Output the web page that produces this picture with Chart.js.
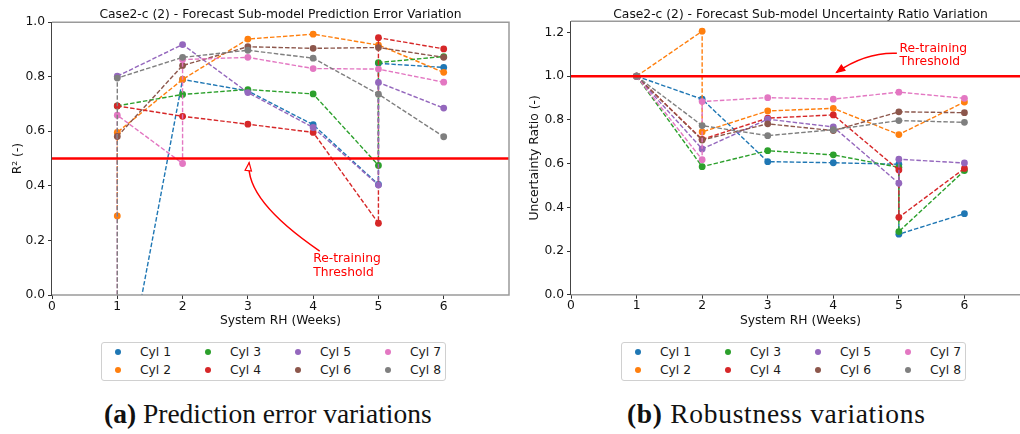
<!DOCTYPE html>
<html><head><meta charset="utf-8">
<script src="https://cdn.jsdelivr.net/npm/chart.js@4.4.0/dist/chart.umd.min.js"></script>
<style>
html,body{margin:0;padding:0;background:#fff;overflow:hidden;width:1020px;height:434px;}
#wrap{position:relative;width:1020px;height:434px;overflow:hidden;background:#fff;}
.cv{position:absolute;top:0;}
.legend{position:absolute;top:342px;width:345px;height:39px;border:1px solid #d0d0d0;border-radius:3px;box-sizing:border-box;font-family:'DejaVu Sans',sans-serif;font-size:12.3px;color:#1a1a1a;background:#fff;}
.item{position:absolute;white-space:nowrap;line-height:14px;}
.dot{position:absolute;width:6px;height:6px;border-radius:50%;}
.cap{position:absolute;top:400px;font-family:'Liberation Serif',serif;font-size:27.5px;color:#111;white-space:nowrap;line-height:28px;}
</style></head><body>
<div id="wrap">
<div class="cv" style="left:0;"><canvas id="c1" width="520" height="330"></canvas></div>
<div class="cv" style="left:520px;"><canvas id="c2" width="520" height="330"></canvas></div>
<div class="legend" id="lg1" style="left:101px;"></div>
<div class="legend" id="lg2" style="left:621px;"></div>
<div class="cap" style="left:104px;"><b>(a)</b> Prediction error variations</div>
<div class="cap" style="left:627px;letter-spacing:0.7px;"><b>(b)</b> Robustness variations</div>
</div>
<script>
// ---------- data ----------
const cylNames = ['Cyl 1','Cyl 2','Cyl 3','Cyl 4','Cyl 5','Cyl 6','Cyl 7','Cyl 8'];
const cylColors = ['#1f77b4','#ff7f0e','#2ca02c','#d62728','#9467bd','#8c564b','#e377c2','#7f7f7f'];
const xTickValues = [0,1,2,3,4,5,6];
const r2TickValues = [0,0.2,0.4,0.6,0.8,1.0];
const urTickValues = [0,0.2,0.4,0.6,0.8,1.0,1.2];
const r2Threshold = 0.5;
const urThreshold = 1.0;

// (a) R^2 per cylinder (week, value); repeated weeks = value after re-training
const r2X1 = [1,2,3,4,5,5,6];     const r2Y1 = [-0.48,0.790,0.748,0.624,0.405,0.849,0.834];
const r2X2 = [1,1,2,3,4,5,6];     const r2Y2 = [0.290,0.596,0.790,0.938,0.956,0.916,0.816];
const r2X3 = [1,2,3,4,5,5,6];     const r2Y3 = [0.693,0.735,0.753,0.737,0.475,0.852,0.874];
const r2X4 = [1,2,3,4,5,5,6];     const r2Y4 = [0.693,0.655,0.626,0.596,0.263,0.943,0.902];
const r2X5 = [1,2,3,4,5,5,6];     const r2Y5 = [0.802,0.918,0.742,0.614,0.403,0.779,0.685];
const r2X6 = [1,2,3,4,5,6];       const r2Y6 = [0.581,0.841,0.910,0.904,0.907,0.871];
const r2X7 = [1,1,2,2,3,4,5,6];   const r2Y7 = [-1.00,0.659,0.482,0.863,0.871,0.830,0.828,0.780];
const r2X8 = [1,1,2,3,4,5,6];     const r2Y8 = [-1.00,0.795,0.871,0.897,0.868,0.736,0.580];

// (b) Uncertainty ratio per cylinder
const urX1 = [1,2,3,4,5,5,6];     const urY1 = [1.0,0.895,0.609,0.604,0.597,0.277,0.371];
const urX2 = [1,2,2,3,4,5,6];     const urY2 = [1.0,1.206,0.745,0.841,0.853,0.733,0.882];
const urX3 = [1,2,3,4,5,5,6];     const urY3 = [1.0,0.586,0.659,0.640,0.583,0.289,0.568];
const urX4 = [1,2,3,4,5,5,6];     const urY4 = [1.0,0.711,0.808,0.823,0.571,0.354,0.578];
const urX5 = [1,2,3,4,5,5,6];     const urY5 = [1.0,0.667,0.803,0.768,0.510,0.620,0.603];
const urX6 = [1,2,3,4,5,6];       const urY6 = [1.0,0.708,0.782,0.751,0.837,0.833];
const urX7 = [1,2,2,3,4,5,6];     const urY7 = [1.0,0.618,0.884,0.902,0.895,0.927,0.899];
const urX8 = [1,2,3,4,5,6];       const urY8 = [1.0,0.774,0.728,0.755,0.797,0.789];

const r2Xs = [r2X1,r2X2,r2X3,r2X4,r2X5,r2X6,r2X7,r2X8];
const r2Ys = [r2Y1,r2Y2,r2Y3,r2Y4,r2Y5,r2Y6,r2Y7,r2Y8];
const urXs = [urX1,urX2,urX3,urX4,urX5,urX6,urX7,urX8];
const urYs = [urY1,urY2,urY3,urY4,urY5,urY6,urY7,urY8];

// ---------- rendering ----------
const FONT = {family:"'DejaVu Sans', sans-serif", size:12.3, weight:'normal'};
const TXT = '#111';

const spinePlugin = {
  id:'spines',
  afterDatasetsDraw(chart){
    const {ctx, chartArea:a} = chart;
    ctx.save();
    ctx.strokeStyle='#9a9a9a'; ctx.lineWidth=1.5;
    ctx.beginPath();
    ctx.moveTo(a.left, a.top); ctx.lineTo(a.right, a.top); ctx.lineTo(a.right, a.bottom); ctx.lineTo(a.left, a.bottom);
    ctx.stroke();
    ctx.strokeStyle='#444'; ctx.lineWidth=1;
    ctx.beginPath(); ctx.moveTo(Math.round(a.left)-0.5, a.top); ctx.lineTo(Math.round(a.left)-0.5, a.bottom+0.5); ctx.stroke();
    ctx.restore();
  }
};

const annotPlugin = {
  id:'annot',
  afterDraw(chart, args, o){
    const {ctx, scales:{x,y}} = chart;
    const P = p => [x.getPixelForValue(p[0]), y.getPixelForValue(p[1])];
    const t = P(o.tail), c = P(o.ctrl), h = P(o.head);
    ctx.save();
    ctx.strokeStyle='#ff0000'; ctx.lineWidth=1.5;
    ctx.beginPath(); ctx.moveTo(t[0],t[1]); ctx.quadraticCurveTo(c[0],c[1],h[0],h[1]); ctx.stroke();
    let dx=h[0]-c[0], dy=h[1]-c[1]; const L=Math.hypot(dx,dy); dx/=L; dy/=L;
    const len=8, w=3.2;
    const bx=h[0]-dx*len, by=h[1]-dy*len;
    ctx.beginPath(); ctx.moveTo(h[0],h[1]);
    ctx.lineTo(bx-dy*w, by+dx*w); ctx.lineTo(bx+dy*w, by-dx*w); ctx.closePath();
    ctx.fillStyle = o.hollow ? '#fff' : '#ff0000';
    ctx.fill(); ctx.lineWidth=1.2; ctx.stroke();
    ctx.fillStyle='#ff0000'; ctx.font="12.3px 'DejaVu Sans', sans-serif";
    ctx.textAlign='left'; ctx.textBaseline='middle';
    const p1 = P(o.text1), p2 = P(o.text2);
    ctx.fillText('Re-training', p1[0], p1[1]);
    ctx.fillText('Threshold', p2[0], p2[1]);
    ctx.restore();
  }
};

function makeChart(id, xs, ys, cfg){
  const datasets = cylNames.map((name,i)=>({
    label:name,
    data: xs[i].map((xv,k)=>({x:xv, y:ys[i][k]})),
    borderColor:cylColors[i], backgroundColor:cylColors[i],
    pointBackgroundColor:cylColors[i], pointBorderColor:cylColors[i],
    borderWidth:1.4, borderDash:[4.5,2], pointRadius:3.4, pointHoverRadius:3.4, pointBorderWidth:0,
    showLine:true, order:10-i
  }));
  datasets.push({label:'Threshold', data:[{x:0,y:cfg.thr},{x:7,y:cfg.thr}], borderColor:'#ff0000', backgroundColor:'#ff0000',
    borderWidth:2.5, pointRadius:0, showLine:true, order:-1});
  return new Chart(document.getElementById(id), {
    type:'scatter',
    data:{datasets},
    options:{
      responsive:false, animation:false, events:[],
      layout:{padding:{left:0,right:cfg.rightPad,top:0,bottom:0}},
      plugins:{
        legend:{display:false}, tooltip:{enabled:false},
        title:{display:true, text:cfg.title, fullSize:false, font:FONT, color:TXT, padding:{top:cfg.titleTop,bottom:cfg.titleBottom}},
        annot:cfg.annot
      },
      scales:{
        x:{type:'linear', min:0, max:7,
          afterBuildTicks:s=>{s.ticks = xTickValues.map(v=>({value:v}));},
          afterFit:s=>{s.height=cfg.xh;},
          ticks:{font:FONT, color:TXT, padding:0, callback:v=>String(v)},
          grid:{display:true, drawOnChartArea:false, drawTicks:true, tickLength:4, tickColor:'#333', tickWidth:1},
          border:{display:false},
          title:{display:true, text:'System RH (Weeks)', font:FONT, color:TXT, padding:{top:0,bottom:1.5}}
        },
        y:{type:'linear', min:0, max:cfg.ymax,
          afterBuildTicks:s=>{s.ticks = cfg.yticks.map(v=>({value:v}));},
          afterFit:s=>{s.width=cfg.yw;},
          ticks:{font:FONT, color:TXT, padding:3, callback:v=>Number(v).toFixed(1)},
          grid:{display:true, drawOnChartArea:false, drawTicks:true, tickLength:4, tickColor:'#333', tickWidth:1},
          border:{display:false},
          title:{display:true, text:cfg.ytitle, font:FONT, color:TXT, padding:{top:cfg.ytpad,bottom:0}}
        }
      }
    },
    plugins:[spinePlugin, annotPlugin]
  });
}

makeChart('c1', r2Xs, r2Ys, {
  title:'Case2-c (2) - Forecast Sub-model Prediction Error Variation',
  thr:r2Threshold, ymax:1.0, yticks:r2TickValues, ytitle:'R² (-)',
  rightPad:11, xh:35, yw:52, ytpad:10.8, titleTop:7, titleBottom:0.4,
  annot:{tail:[4.10,0.161], ctrl:[2.956,0.348], head:[3.02,0.485], hollow:true, text1:[4.00,0.131], text2:[4.00,0.082]}
});
makeChart('c2', urXs, urYs, {
  title:'Case2-c (2) - Forecast Sub-model Uncertainty Ratio Variation',
  thr:urThreshold, ymax:1.252, yticks:urTickValues, ytitle:'Uncertainty Ratio (-)',
  rightPad:10, xh:35.3, yw:51, ytpad:7.8, titleTop:7, titleBottom:-0.6,
  annot:{tail:[4.97,1.105], ctrl:[4.50,1.111], head:[4.05,1.018], hollow:false, text1:[5.01,1.125], text2:[5.01,1.064]}
});

function buildLegend(id){
  const el = document.getElementById(id);
  cylNames.forEach((n,i)=>{
    const col = Math.floor(i/2), row = i%2;
    const cy = 10.3 + row*17.7 - 1;
    const cx = 17 + col*90 - 1;
    const dot = document.createElement('div'); dot.className='dot';
    dot.style.background = cylColors[i];
    dot.style.left = (cx-3)+'px'; dot.style.top = (cy-3)+'px';
    const it = document.createElement('div'); it.className='item';
    it.textContent = n; it.style.left = (cx+22)+'px'; it.style.top = (cy-7)+'px';
    el.appendChild(dot); el.appendChild(it);
  });
}
buildLegend('lg1'); buildLegend('lg2');
</script>
</body></html>
